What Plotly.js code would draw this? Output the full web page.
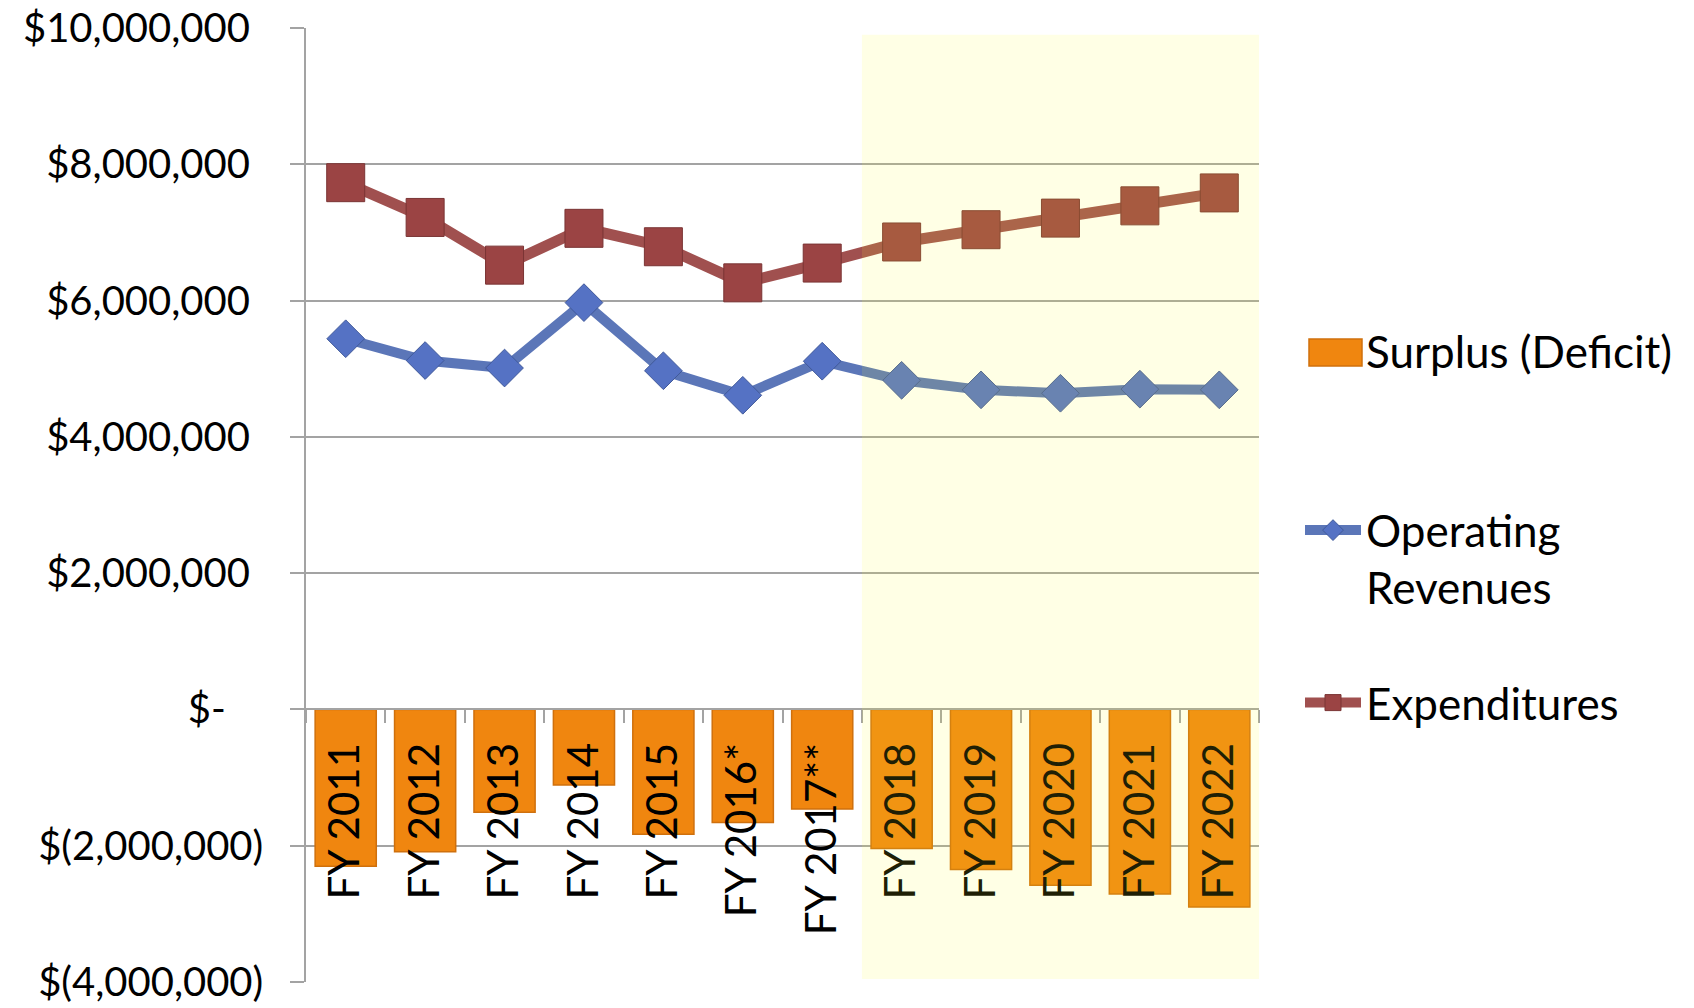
<!DOCTYPE html>
<html>
<head>
<meta charset="utf-8">
<script src="https://cdn.plot.ly/plotly-3.0.1.min.js"></script>
<style>
  html, body { margin: 0; padding: 0; background: #ffffff; }
  #chart { width: 1694px; height: 1008px; }
</style>
</head>
<body>
<div id="chart"></div>
<script>
// ---- data ----
const categories = ['FY 2011', 'FY 2012', 'FY 2013', 'FY 2014', 'FY 2015', 'FY 2016*',
                    'FY 2017**', 'FY 2018', 'FY 2019', 'FY 2020', 'FY 2021', 'FY 2022'];
const surplusDeficit = [-2300000, -2090000, -1510000, -1110000, -1830000, -1660000,
                        -1460000, -2040000, -2350000, -2580000, -2710000, -2900000];
const operatingRevenues = [5440000, 5120000, 5010000, 5970000, 4970000, 4610000,
                           5110000, 4830000, 4690000, 4640000, 4700000, 4690000];
const expenditures = [7730000, 7220000, 6520000, 7060000, 6790000, 6260000,
                      6550000, 6860000, 7040000, 7210000, 7390000, 7580000];
const yTickVals = [-4000000, -2000000, 0, 2000000, 4000000, 6000000, 8000000, 10000000];
const yTickText = ['$(4,000,000)', '$(2,000,000)', '$-\u2003\u2009\u200A', '$2,000,000\u2004', '$4,000,000\u2004',
                   '$6,000,000\u2004', '$8,000,000\u2004', '$10,000,000\u2004'];
const forecastStart = 'FY 2018';

const FONT = 'Lato, "Open Sans", sans-serif';
const GRID = '#A3A3A3';
const ORANGE = '#F0860F';

const traces = [
  {
    type: 'bar', name: 'Surplus (Deficit)', x: categories, y: surplusDeficit,
    marker: { color: ORANGE, line: { color: '#CF700D', width: 1.5 } },
    showlegend: false, hoverinfo: 'x+y'
  },
  {
    // legend entry for the bar series; its wide swatch is the paper shape below
    type: 'scatter', mode: 'lines', name: 'Surplus (Deficit)',
    x: [categories[0]], y: [null],
    line: { color: 'rgba(0,0,0,0)', width: 1 },
    legend: 'legend', hoverinfo: 'skip'
  },
  {
    type: 'scatter', mode: 'lines+markers', name: 'Operating<br>Revenues',
    x: categories, y: operatingRevenues,
    line: { color: '#5B76B8', width: 10 },
    marker: { symbol: 'diamond', size: 29, color: '#5572C4', line: { color: '#40599A', width: 1 } },
    legend: 'legend2'
  },
  {
    type: 'scatter', mode: 'lines+markers', name: 'Expenditures',
    x: categories, y: expenditures,
    line: { color: '#A0504F', width: 11 },
    marker: { symbol: 'square', size: 38, color: '#9B4444', line: { color: '#7A3434', width: 1 } },
    legend: 'legend3'
  }
];

const fx = px => (px - 306) / 953;
const fy = py => (982 - py) / 954;

const legendBase = {
  xref: 'paper', yref: 'paper', xanchor: 'left',
  bgcolor: 'rgba(0,0,0,0)', borderwidth: 0,
  font: { family: FONT, size: 44, color: '#000000' },
  itemwidth: 56
};

const layout = {
  width: 1694, height: 1008,
  margin: { l: 306, r: 435, t: 28, b: 26 },
  paper_bgcolor: '#ffffff', plot_bgcolor: '#ffffff',
  font: { family: FONT, color: '#000000' },
  bargap: 0.23,
  showlegend: true,
  xaxis: {
    type: 'category', categoryorder: 'array', categoryarray: categories,
    range: [-0.5, categories.length - 0.5], autorange: false,
    anchor: 'free', position: 4 / 14,
    showline: true, linecolor: GRID, linewidth: 1.5,
    ticks: 'outside', tickson: 'boundaries', ticklen: 13, tickcolor: GRID, tickwidth: 1.5,
    tickangle: -90, ticklabelstandoff: 16,
    tickfont: { family: FONT, size: 42, color: '#000000' },
    showgrid: false, zeroline: false
  },
  yaxis: {
    range: [-4000000, 10000000], autorange: false,
    tickvals: yTickVals, ticktext: yTickText,
    showline: true, linecolor: GRID, linewidth: 1.5,
    ticks: 'outside', ticklen: 14, tickcolor: GRID, tickwidth: 1.5,
    ticklabelstandoff: 19,
    showgrid: true, gridcolor: GRID, gridwidth: 1.5,
    zeroline: false,
    tickfont: { family: FONT, size: 40, color: '#000000' }
  },
  legend: Object.assign({}, legendBase, { x: fx(1300), y: fy(351), yanchor: 'middle' }),
  legend2: Object.assign({}, legendBase, { x: fx(1300), y: fy(495), yanchor: 'top', valign: 'top' }),
  legend3: Object.assign({}, legendBase, { x: fx(1300), y: fy(703), yanchor: 'middle' }),
  shapes: [
    {
      type: 'rect', layer: 'above', xref: 'x', yref: 'y',
      x0: categories.indexOf(forecastStart) - 0.5, x1: categories.length - 0.5,
      y0: -3956000, y1: 9900000,
      fillcolor: 'rgba(255,255,38,0.12)', line: { width: 0 }
    },
    {
      // wide legend swatch for "Surplus (Deficit)"
      type: 'rect', layer: 'above', xref: 'paper', yref: 'paper',
      x0: fx(1309), x1: fx(1362), y0: fy(366), y1: fy(339),
      fillcolor: ORANGE, line: { color: '#CF700D', width: 1.5 }
    }
  ]
};

Plotly.newPlot('chart', traces, layout, { displayModeBar: false, responsive: false });
</script>
</body>
</html>
